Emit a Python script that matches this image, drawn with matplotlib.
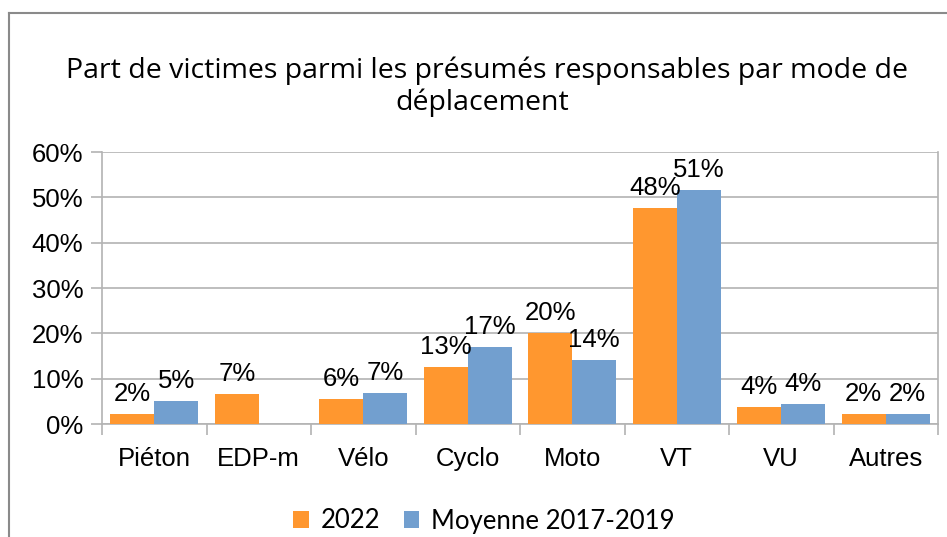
import matplotlib
matplotlib.use("Agg")
import matplotlib.pyplot as plt
import numpy as np
from matplotlib.patches import Patch
from matplotlib.lines import Line2D

categories = ["Piéton", "EDP-m", "Vélo", "Cyclo", "Moto", "VT", "VU", "Autres"]
series_names = ["2022", "Moyenne 2017-2019"]
values_2022 = [2.2, 6.6, 5.5, 12.6, 20.1, 47.7, 3.7, 2.1]
values_moy = [5.1, np.nan, 6.8, 17.0, 14.1, 51.6, 4.4, 2.1]
labels_2022 = ["2%", "7%", "6%", "13%", "20%", "48%", "4%", "2%"]
labels_moy = ["5%", "", "7%", "17%", "14%", "51%", "4%", "2%"]
yticks = [0, 10, 20, 30, 40, 50, 60]
title_lines = ["Part de victimes parmi les présumés responsables par mode de", "déplacement"]

W, H = 947, 537
fig = plt.figure(figsize=(W / 100, H / 100), dpi=100)
fig.patch.set_facecolor("white")

# outer frame (cropped)
fig.add_artist(Line2D([8.5 / W, 8.5 / W], [0, 1 - 12.5 / H], transform=fig.transFigure,
                      color="#8a8a8a", lw=1.5))
fig.add_artist(Line2D([8.5 / W, 1], [1 - 12.5 / H, 1 - 12.5 / H], transform=fig.transFigure,
                      color="#8a8a8a", lw=1.5))

ax = fig.add_axes([102 / W, 1 - 424 / H, (938 - 102) / W, (424 - 152) / H])
x = np.arange(len(categories))
bw = 0.42
orange = "#ff972f"
blue = "#729fcf"
ax.bar(x - bw / 2, values_2022, bw, color=orange, zorder=3)
ax.bar(x + bw / 2, np.nan_to_num(values_moy), bw, color=blue, zorder=3)

FS = 18.5
lab_font = dict(family="Liberation Sans", size=FS, color="#000000")
for xi, v, l in zip(x, values_2022, labels_2022):
    if l:
        ax.annotate(l, (xi - bw / 2, v), xytext=(0, 9.5), textcoords="offset points",
                    ha="center", va="baseline", zorder=5, **lab_font)
for xi, v, l in zip(x, values_moy, labels_moy):
    if l:
        ax.annotate(l, (xi + bw / 2, v), xytext=(0, 9.5), textcoords="offset points",
                    ha="center", va="baseline", zorder=5, **lab_font)

ax.set_xlim(-0.5, len(categories) - 0.5)
ax.set_ylim(0, 60)
ax.set_yticks(yticks)
ax.set_yticklabels([f"{t}%" for t in yticks], fontfamily="Liberation Sans", fontsize=FS)
ax.set_xticks(x)
ax.set_xticklabels(categories, fontfamily="Liberation Sans", fontsize=FS)
ax.set_xticks(np.arange(-0.5, len(categories) + 0.5, 1), minor=True)
ax.tick_params(axis="x", which="major", length=0, pad=16.5)
ax.tick_params(axis="x", which="minor", length=8, width=1.2, color="#b3b3b3")
ax.tick_params(axis="y", length=8, width=1.2, color="#b3b3b3", pad=5.5)
ax.grid(axis="y", color="#b3b3b3", lw=1.2, zorder=0)
for s in ["left", "right", "bottom"]:
    ax.spines[s].set_color("#b3b3b3")
    ax.spines[s].set_linewidth(1.2)
ax.spines["top"].set_visible(False)

title_font = dict(fontfamily="Open Sans", fontsize=20.5, color="#000000")
fig.text(487 / W, 1 - 78 / H, title_lines[0], ha="center", va="baseline", **title_font)
fig.text(482 / W, 1 - 110 / H, title_lines[1], ha="center", va="baseline", **title_font)

handles = [Patch(facecolor=orange, edgecolor="none"), Patch(facecolor=blue, edgecolor="none")]
fig.legend(handles, series_names, loc="center", bbox_to_anchor=(484 / W, 1 - 521 / H),
           ncol=2, frameon=False, prop=dict(family="Lato", size=18.5), handlelength=0.62,
           handleheight=0.62, handletextpad=0.45, columnspacing=0.9, borderaxespad=0)

fig.savefig("out.png", dpi=100)
